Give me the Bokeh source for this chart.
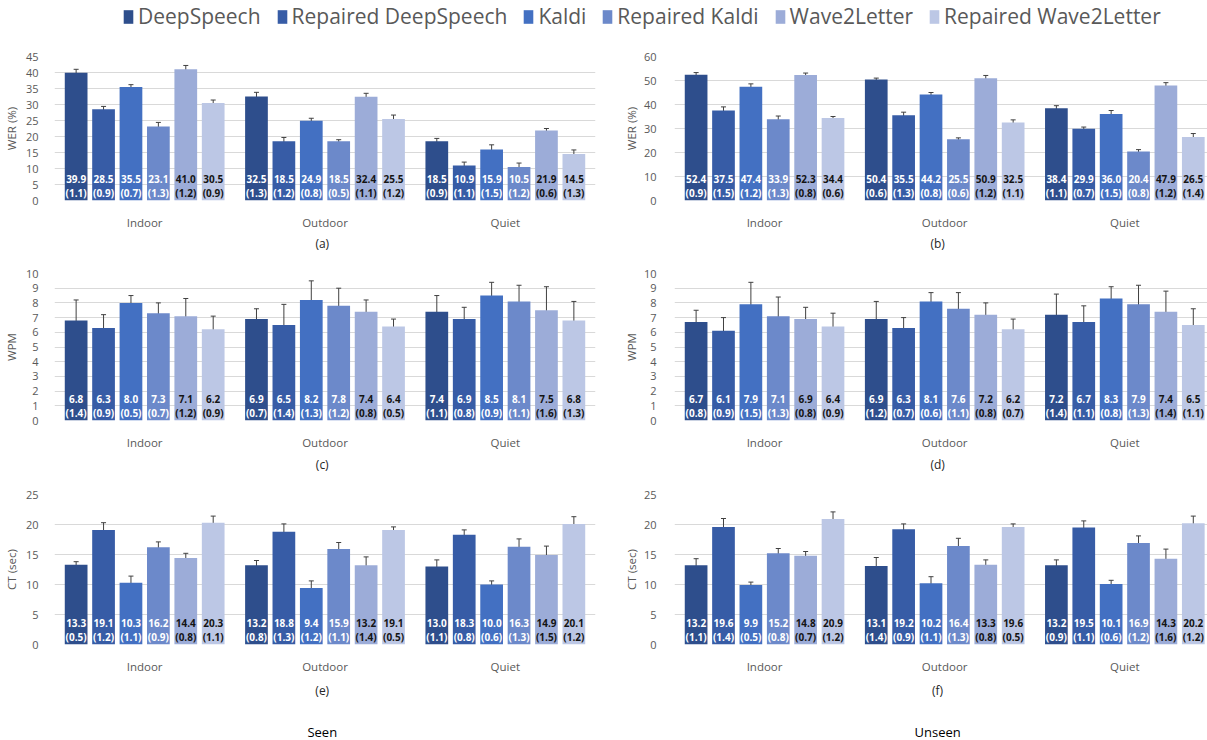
from bokeh.plotting import figure
from bokeh.models import (ColumnDataSource, Range1d, FixedTicker, Whisker, TeeHead,
                          Legend, LegendItem)
from bokeh.layouts import column, row
from bokeh.transform import dodge
from bokeh.core.properties import value
from bokeh.embed import file_html
from bokeh.resources import INLINE

# ---------------- data ----------------
conditions = ["Indoor", "Outdoor", "Quiet"]
systems = ["DeepSpeech", "Repaired DeepSpeech", "Kaldi", "Repaired Kaldi",
           "Wave2Letter", "Repaired Wave2Letter"]

# rows: Indoor, Outdoor, Quiet ; columns: systems
wer_seen_mean = [[39.9, 28.5, 35.5, 23.1, 41.0, 30.5],
                 [32.5, 18.5, 24.9, 18.5, 32.4, 25.5],
                 [18.5, 10.9, 15.9, 10.5, 21.9, 14.5]]
wer_seen_sd = [[1.1, 0.9, 0.7, 1.3, 1.2, 0.9],
               [1.3, 1.2, 0.8, 0.5, 1.1, 1.2],
               [0.9, 1.1, 1.5, 1.2, 0.6, 1.3]]

wer_unseen_mean = [[52.4, 37.5, 47.4, 33.9, 52.3, 34.4],
                   [50.4, 35.5, 44.2, 25.5, 50.9, 32.5],
                   [38.4, 29.9, 36.0, 20.4, 47.9, 26.5]]
wer_unseen_sd = [[0.9, 1.5, 1.2, 1.3, 0.8, 0.6],
                 [0.6, 1.3, 0.8, 0.6, 1.2, 1.1],
                 [1.1, 0.7, 1.5, 0.8, 1.2, 1.4]]

wpm_seen_mean = [[6.8, 6.3, 8.0, 7.3, 7.1, 6.2],
                 [6.9, 6.5, 8.2, 7.8, 7.4, 6.4],
                 [7.4, 6.9, 8.5, 8.1, 7.5, 6.8]]
wpm_seen_sd = [[1.4, 0.9, 0.5, 0.7, 1.2, 0.9],
               [0.7, 1.4, 1.3, 1.2, 0.8, 0.5],
               [1.1, 0.8, 0.9, 1.1, 1.6, 1.3]]

wpm_unseen_mean = [[6.7, 6.1, 7.9, 7.1, 6.9, 6.4],
                   [6.9, 6.3, 8.1, 7.6, 7.2, 6.2],
                   [7.2, 6.7, 8.3, 7.9, 7.4, 6.5]]
wpm_unseen_sd = [[0.8, 0.9, 1.5, 1.3, 0.8, 0.9],
                 [1.2, 0.7, 0.6, 1.1, 0.8, 0.7],
                 [1.4, 1.1, 0.8, 1.3, 1.4, 1.1]]

ct_seen_mean = [[13.3, 19.1, 10.3, 16.2, 14.4, 20.3],
                [13.2, 18.8, 9.4, 15.9, 13.2, 19.1],
                [13.0, 18.3, 10.0, 16.3, 14.9, 20.1]]
ct_seen_sd = [[0.5, 1.2, 1.1, 0.9, 0.8, 1.1],
              [0.8, 1.3, 1.2, 1.1, 1.4, 0.5],
              [1.1, 0.8, 0.6, 1.3, 1.5, 1.2]]

ct_unseen_mean = [[13.2, 19.6, 9.9, 15.2, 14.8, 20.9],
                  [13.1, 19.2, 10.2, 16.4, 13.3, 19.6],
                  [13.2, 19.5, 10.1, 16.9, 14.3, 20.2]]
ct_unseen_sd = [[1.1, 1.4, 0.5, 0.8, 0.7, 1.2],
                [1.4, 0.9, 1.1, 1.3, 0.8, 0.5],
                [0.9, 1.1, 0.6, 1.2, 1.6, 1.2]]

captions_row1 = ["(a)", "(b)"]
captions_row2 = ["(c)", "(d)"]
captions_row3 = ["(e)", "(f)"]
column_titles = ["Seen", "Unseen"]

# ---------------- style ----------------
colors = ["#2E4E8C", "#375CA6", "#4370C2", "#6C89CA", "#9CACD8", "#BCC7E5"]
label_colors = ["#FFFFFF", "#FFFFFF", "#FFFFFF", "#FFFFFF", "#141414", "#141414"]
FONT = "Open Sans"
GREY = "#595959"
GRID = "#D9D9D9"
SLOT = 0.152
BAR_W = 0.126

FRAME_H = 152
LEFT_W, RIGHT_W = 620, 587
LEFT_BORDER, RIGHT_BORDER = 48, 47
CAT_PX = 182.5


def panel(means, sds, y_max, y_step, y_label, left, top_b, bottom_b):
    if left:
        width, lb, rb = LEFT_W, LEFT_BORDER, 25
        frame_w = width - lb - rb
        x_end = 3.0
        standoff, lab_standoff = 10, 4
    else:
        width, lb, rb = RIGHT_W, RIGHT_BORDER, 0
        frame_w = width - lb - rb
        x_end = frame_w / CAT_PX
        standoff, lab_standoff = 12, 2
    p = figure(width=width, height=top_b + FRAME_H + bottom_b,
               output_backend="svg", toolbar_location=None,
               x_range=Range1d(0, x_end), y_range=Range1d(0, y_max),
               min_border_left=lb, min_border_right=rb,
               min_border_top=top_b, min_border_bottom=bottom_b)
    p.outline_line_color = None
    p.background_fill_color = "white"
    p.border_fill_color = "white"
    p.xgrid.visible = False
    p.ygrid.grid_line_color = GRID
    p.ygrid.grid_line_width = 1

    p.yaxis.ticker = FixedTicker(ticks=list(range(0, y_max + 1, y_step)))
    p.yaxis.axis_line_color = None
    p.yaxis.major_tick_line_color = None
    p.yaxis.minor_tick_line_color = None
    p.yaxis.major_label_standoff = standoff
    p.yaxis.major_label_text_font = FONT
    p.yaxis.major_label_text_font_size = "11px"
    p.yaxis.major_label_text_color = GREY
    p.yaxis.axis_label = y_label
    p.yaxis.axis_label_text_font = FONT
    p.yaxis.axis_label_text_font_size = "11.5px"
    p.yaxis.axis_label_text_font_style = "normal"
    p.yaxis.axis_label_text_color = GREY
    p.yaxis.axis_label_standoff = lab_standoff

    p.xaxis.ticker = FixedTicker(ticks=[0.5, 1.5, 2.5])
    p.xaxis.major_label_overrides = {0.5: conditions[0], 1.5: conditions[1],
                                     2.5: conditions[2]}
    p.xaxis.axis_line_color = None
    p.xaxis.major_tick_line_color = None
    p.xaxis.minor_tick_line_color = None
    p.xaxis.major_label_standoff = 8
    p.xaxis.major_label_text_font = FONT
    p.xaxis.major_label_text_font_size = "11.5px"
    p.xaxis.major_label_text_color = GREY

    for j, name in enumerate(systems):
        vals = [means[i][j] for i in range(3)]
        sd = [sds[i][j] for i in range(3)]
        src = ColumnDataSource(dict(
            xc=[i + 0.5 for i in range(3)],
            top=vals,
            upper=[v + s for v, s in zip(vals, sd)],
            lower=[v - s for v, s in zip(vals, sd)],
            l1=[f"{v:.1f}" for v in vals],
            l2=[f"({s:.1f})" for s in sd],
        ))
        off = (j - 2.5) * SLOT
        p.vbar(x=dodge("xc", off, range=p.x_range), top="top", bottom=0,
               width=BAR_W, source=src, fill_color=colors[j], line_color=None)
        w = Whisker(base=dodge("xc", off, range=p.x_range), upper="upper",
                    lower="lower", source=src, line_color="#404040",
                    line_width=1,
                    upper_head=TeeHead(size=5, line_color="#404040", line_width=1),
                    lower_head=TeeHead(size=5, line_color="#404040", line_width=1))
        p.add_layout(w)
        for col, yo in (("l1", -21.5), ("l2", -8)):
            p.text(x=dodge("xc", off, range=p.x_range), y=0, text=col,
                   source=src, y_offset=yo, text_align="center",
                   text_baseline="middle", text_font=value(FONT),
                   text_font_style="bold", text_font_size="10px",
                   text_color=label_colors[j])
    return p


LEFT_C = LEFT_BORDER + 1.5 * CAT_PX
RIGHT_C = LEFT_W + RIGHT_BORDER + 1.48 * CAT_PX


def caption_fig(texts, height, y_from_top, size="12px", color="#262626"):
    w = LEFT_W + RIGHT_W
    c = figure(width=w, height=height, output_backend="svg",
               toolbar_location=None, x_range=Range1d(0, w),
               y_range=Range1d(0, height), min_border=0)
    c.axis.visible = False
    c.grid.visible = False
    c.outline_line_color = None
    src = ColumnDataSource(dict(x=[LEFT_C, RIGHT_C],
                                y=[height - y_from_top] * 2, t=texts))
    c.text(x="x", y="y", text="t", source=src, text_align="center",
           text_baseline="middle", text_font=value(FONT),
           text_font_size=size, text_color=color)
    return c


# ---------------- legend ----------------
LEG_H = 40
leg = figure(width=LEFT_W + RIGHT_W, height=LEG_H, output_backend="svg",
             toolbar_location=None, x_range=Range1d(0, 1), y_range=Range1d(0, 1),
             min_border=0)
leg.axis.visible = False
leg.grid.visible = False
leg.outline_line_color = None
items = []
for j, name in enumerate(systems):
    # zero-height placeholder renderer, only used to carry the legend swatch
    r = leg.vbar(x=[0.5], top=[0], bottom=0, width=0.01,
                 fill_color=colors[j], line_color=None)
    items.append(LegendItem(label=name, renderers=[r]))
legend = Legend(items=items, orientation="horizontal", location=(122, 10),
                glyph_width=12, glyph_height=17, label_standoff=4, spacing=15,
                padding=0, margin=0, border_line_color=None,
                background_fill_alpha=0, label_text_font=FONT,
                label_text_font_size="21px", label_text_color=GREY,
                label_height=26)
leg.add_layout(legend, "center")

# ---------------- panels ----------------
pa = panel(wer_seen_mean, wer_seen_sd, 45, 5, "WER (%)", True, 16, 24)
pb = panel(wer_unseen_mean, wer_unseen_sd, 60, 10, "WER (%)", False, 16, 24)
pc = panel(wpm_seen_mean, wpm_seen_sd, 10, 1, "WPM", True, 17, 27)
pd_ = panel(wpm_unseen_mean, wpm_unseen_sd, 10, 1, "WPM", False, 17, 27)
pe = panel(ct_seen_mean, ct_seen_sd, 25, 5, "CT (sec)", True, 16, 30)
pf = panel(ct_unseen_mean, ct_unseen_sd, 25, 5, "CT (sec)", False, 16, 30)

cap1 = caption_fig(captions_row1, 24, 11)
cap2 = caption_fig(captions_row2, 26, 12)
CAP3_H = 63
cap3 = caption_fig(captions_row3, CAP3_H, 14)
cap3.text(x=[LEFT_C, RIGHT_C], y=[CAP3_H - 55] * 2, text=column_titles,
          text_align="center", text_baseline="middle", text_font=value(FONT),
          text_font_size="13px", text_color="#000000")

layout = column(leg, row(pa, pb), cap1, row(pc, pd_), cap2, row(pe, pf), cap3,
                spacing=0)

open("out.html", "w").write(file_html(layout, INLINE))
